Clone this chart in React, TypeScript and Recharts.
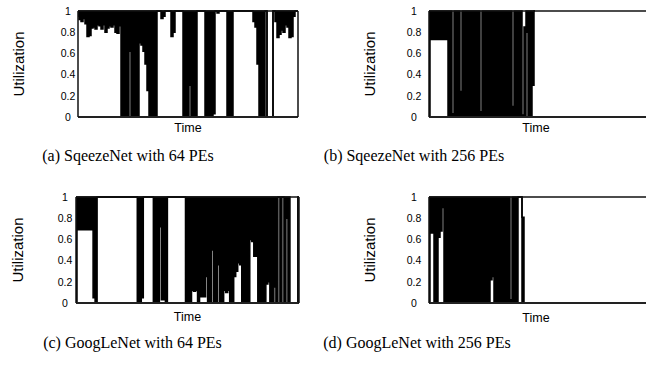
import React from 'react';
import { AreaChart, Area, XAxis, YAxis, ReferenceLine } from 'recharts';

// Y axis ticks (utilization)
const yTicks = [0, 0.2, 0.4, 0.6, 0.8, 1];
const yTickLabels = ['0', '0.2', '0.4', '0.6', '0.8', '1'];

// Panel (a) SqueezeNet 64 PEs: per time bin, lower / upper utilization envelope
const loA = [
  0.95, 0.92, 0.9, 0.93, 0.88, 0.76, 0.77, 0.84, 0.85, 0.83,
  0.87, 0.86, 0.83, 0.87, 0.8, 0.84, 0.86, 0.85, 0.87, 0.8,
  0.79, 0.86, 0, 0, 0, 0, 0.62, 0, 0, 0,
  0, 0.7, 0.68, 0.62, 0.5, 0.25, 0, 0, 0, 0,
  1, 1, 0.93, 0.95, 1, 1, 1, 0.76, 0.8, 1,
  1, 1, 1, 0, 0, 0, 0.3, 0, 0, 0,
  1, 1, 1, 1, 0, 0, 0, 0, 0.03, 1,
  0.98, 1, 1, 1, 1, 0, 0, 0, 1, 1,
  1, 1, 1, 1, 1, 1, 1, 1, 0.9, 0.85,
  0.5, 0, 0, 0, 1, 0, 0, 0, 1, 0.9,
  0.75, 0.78, 0.82, 0.8, 0.87, 0.85, 0.75, 0.76, 0.95, 1,
  1,
];
const hiA = [
  1, 1, 1, 1, 1, 1, 1, 1, 1, 1,
  1, 1, 1, 1, 1, 1, 1, 1, 1, 1,
  1, 1, 1, 1, 1, 1, 1, 1, 1, 1,
  1, 1, 1, 1, 1, 1, 1, 1, 1, 1,
  1, 1, 1, 1, 1, 1, 1, 1, 1, 1,
  1, 1, 1, 1, 1, 1, 1, 1, 1, 1,
  1, 1, 1, 1, 1, 1, 1, 1, 1, 1,
  1, 1, 1, 1, 1, 1, 1, 1, 1, 1,
  1, 1, 1, 1, 1, 1, 1, 1, 1, 1,
  1, 1, 1, 1, 1, 0, 0, 0, 1, 1,
  1, 1, 1, 1, 1, 1, 1, 1, 1, 1,
  1,
];

// Panel (b) SqueezeNet 256 PEs
const loB = [
  0, 0.73, 0.73, 0.73, 0.73, 0.73, 0.73, 0.73, 0.73, 0.73,
  0, 0, 0, 0, 0, 0, 0, 0, 0, 0,
  0, 0, 0, 0, 0, 0, 0, 0, 0, 0,
  0, 0, 0, 0, 0, 0, 0, 0, 0, 0,
  0, 0, 0, 0, 0, 0, 0, 0, 0, 0.8,
  0, 0, 0.3, 1,
];
const hiB = [
  1, 1, 1, 1, 1, 1, 1, 1, 1, 1,
  1, 1, 0.03, 1, 1, 1, 0.24, 1, 1, 1,
  1, 1, 1, 1, 1, 1, 0.05, 1, 1, 1,
  1, 1, 1, 1, 1, 1, 1, 1, 1, 1,
  1, 1, 0.1, 1, 1, 1, 1, 0.02, 0.85, 1,
  1, 1, 1, 1,
];

// Panel (c) GoogLeNet 64 PEs
const loC = [
  0, 0.69, 0.69, 0.69, 0.69, 0.69, 0.69, 0.69, 0.69, 0.05,
  0, 1, 1, 1, 1, 1, 1, 1, 1, 1,
  1, 1, 1, 1, 1, 1, 1, 1, 1, 1,
  1, 0, 0, 0.05, 1, 1, 1, 1, 1, 0,
  0, 0, 0.72, 0.03, 0.03, 0, 1, 1, 1, 1,
  1, 1, 1, 1, 1, 0, 0, 0, 0.12, 0.11,
  0.12, 0, 0.06, 0.06, 0.06, 0.25, 0, 0, 0.5, 0,
  0, 0.36, 0, 0, 0.12, 0.1, 0.12, 0, 0, 0.25,
  0.3, 0.38, 0.36, 0, 0, 0, 0, 0.6, 0.58, 0.44,
  0.44, 0, 0, 0, 0, 0.18, 0.2, 0, 0, 0.15,
  0, 1, 0, 1, 0, 0.8, 0, 0, 0, 0,
  0, 1,
];
const hiC = [
  1, 1, 1, 1, 1, 1, 1, 1, 1, 1,
  1, 1, 1, 1, 1, 1, 1, 1, 1, 1,
  1, 1, 1, 1, 1, 1, 1, 1, 1, 1,
  1, 1, 1, 1, 1, 1, 1, 1, 1, 1,
  1, 1, 1, 1, 1, 1, 1, 1, 1, 1,
  1, 1, 1, 1, 1, 1, 1, 1, 1, 1,
  1, 1, 1, 1, 1, 1, 1, 1, 1, 1,
  1, 1, 1, 1, 1, 1, 1, 1, 1, 1,
  1, 1, 1, 1, 1, 1, 1, 1, 1, 1,
  1, 1, 1, 1, 1, 1, 1, 1, 1, 1,
  1, 1, 1, 1, 1, 1, 1, 0, 0, 0,
  0, 1,
];

// Panel (d) GoogLeNet 256 PEs
const loD = [
  0, 0.66, 0.66, 0, 0, 0.62, 0.68, 0.9, 0, 0,
  0, 0, 0, 0, 0, 0, 0, 0, 0, 0,
  0, 0, 0, 0, 0, 0, 0, 0, 0, 0,
  0, 0.22, 0.25, 0, 0, 0, 0, 0, 0, 0,
  0, 0, 0, 0, 0, 1, 1, 0, 0,
];
const hiD = [
  1, 1, 1, 1, 1, 1, 1, 1, 1, 1,
  1, 1, 1, 1, 1, 1, 1, 1, 1, 1,
  1, 1, 1, 1, 1, 1, 1, 1, 1, 1,
  1, 1, 1, 1, 1, 1, 1, 1, 1, 1,
  1, 0.03, 1, 1, 1, 1, 1, 0.81, 0,
];

const captions = [
  '(a) SqeezeNet with 64 PEs',
  '(b) SqeezeNet with 256 PEs',
  '(c) GoogLeNet with 64 PEs',
  '(d) GoogLeNet with 256 PEs',
];
const yTitle = 'Utilization';
const xTitle = 'Time';

const SANS = '"Liberation Sans", Arial, Helvetica, sans-serif';
const SERIF = '"Liberation Serif", "Times New Roman", serif';

type PanelCfg = {
  lo: number[];
  hi: number[];
  xMax: number;
  L: number;
  R: number;
  T: number;
  B: number;
  tickOff: number;
  yTitleX: number;
  xTitleX: number;
  xTitleY: number;
  capX: number;
  capY: number;
  caption: string;
};

const makeTick = (off: number) => (props: any) => {
  const { x, y, payload } = props;
  const i = yTicks.indexOf(payload.value);
  return (
    <text
      x={x - off}
      y={y}
      dy="0.36em"
      textAnchor="middle"
      fontSize={10.5}
      fontFamily={SANS}
      fill="#000"
    >
      {yTickLabels[i]}
    </text>
  );
};

const centered = (x: number, y: number, extra: React.CSSProperties = {}): React.CSSProperties => ({
  position: 'absolute',
  left: x,
  top: y,
  transform: 'translate(-50%, -50%)',
  whiteSpace: 'nowrap',
  lineHeight: 1,
  color: '#000',
  ...extra,
});

function Panel({ cfg }: { cfg: PanelCfg }) {
  const data = cfg.lo.map((lo, i) => ({ t: i, u: [lo, cfg.hi[i]] }));
  const plotW = cfg.R - cfg.L;
  const plotH = cfg.B - cfg.T;
  const padL = 60;
  const padT = 5;
  const padR = 5;
  const padB = 10;
  const W = plotW + padL + padR;
  const H = plotH + padT + padB;
  const Tick = makeTick(cfg.tickOff);
  return (
    <>
      <div style={{ position: 'absolute', left: cfg.L - padL, top: cfg.T - padT, width: W, height: H }}>
        <AreaChart width={W} height={H} data={data} margin={{ top: padT, right: padR, left: 0, bottom: 0 }}>
          <XAxis
            xAxisId="b"
            dataKey="t"
            type="number"
            domain={[0, cfg.xMax]}
            ticks={[0, cfg.xMax]}
            tick={false}
            tickLine={false}
            height={padB}
            axisLine={false}
          />
          <YAxis
            yAxisId="l"
            type="number"
            domain={[0, 1]}
            ticks={yTicks}
            tick={<Tick />}
            tickLine={false}
            tickSize={0}
            tickMargin={0}
            width={padL}
            axisLine={false}
            interval={0}
          />
          {/* plot frame */}
          <ReferenceLine xAxisId="b" yAxisId="l" y={1} stroke="#111" strokeWidth={1.3} />
          <ReferenceLine xAxisId="b" yAxisId="l" y={0} stroke="#222" strokeWidth={1.8} />
          <ReferenceLine xAxisId="b" yAxisId="l" x={0} stroke="#111" strokeWidth={1.5} />
          <ReferenceLine xAxisId="b" yAxisId="l" x={cfg.xMax} stroke="#111" strokeWidth={1.5} />
          <Area
            xAxisId="b"
            yAxisId="l"
            dataKey="u"
            type="step"
            stroke="#000"
            strokeWidth={1.5}
            fill="#000"
            fillOpacity={1}
            dot={false}
            activeDot={false}
            isAnimationActive={false}
          />
        </AreaChart>
      </div>
      <div style={centered(cfg.yTitleX, (cfg.T + cfg.B) / 2, { fontFamily: SANS, fontSize: 15, transform: 'translate(-50%, -50%) rotate(-90deg)' })}>
        {yTitle}
      </div>
      <div style={centered(cfg.xTitleX, cfg.xTitleY, { fontFamily: SANS, fontSize: 12.5 })}>{xTitle}</div>
      <div style={centered(cfg.capX, cfg.capY, { fontFamily: SERIF, fontSize: 16 })}>{cfg.caption}</div>
    </>
  );
}

const panels: PanelCfg[] = [
  { lo: loA, hi: hiA, xMax: 110, L: 78, R: 298, T: 11, B: 117, tickOff: 10, yTitleX: 17.5, xTitleX: 188, xTitleY: 128, capX: 128, capY: 156, caption: captions[0] },
  { lo: loB, hi: hiB, xMax: 109.5, L: 429, R: 648, T: 11, B: 117, tickOff: 15, yTitleX: 369, xTitleX: 536, xTitleY: 128, capX: 414, capY: 156, caption: captions[1] },
  { lo: loC, hi: hiC, xMax: 111, L: 76, R: 299, T: 197, B: 303, tickOff: 11, yTitleX: 17, xTitleX: 187.5, xTitleY: 317, capX: 132.5, capY: 343, caption: captions[2] },
  { lo: loD, hi: hiD, xMax: 109.5, L: 429, R: 648, T: 197, B: 303, tickOff: 15, yTitleX: 369, xTitleX: 536, xTitleY: 318, capX: 417, capY: 343, caption: captions[3] },
];

export default function App() {
  return (
    <div style={{ position: 'absolute', left: 0, top: 0, width: 646, height: 368, overflow: 'hidden', background: '#fff' }}>
      {panels.map((p, i) => (
        <Panel key={i} cfg={p} />
      ))}
    </div>
  );
}
